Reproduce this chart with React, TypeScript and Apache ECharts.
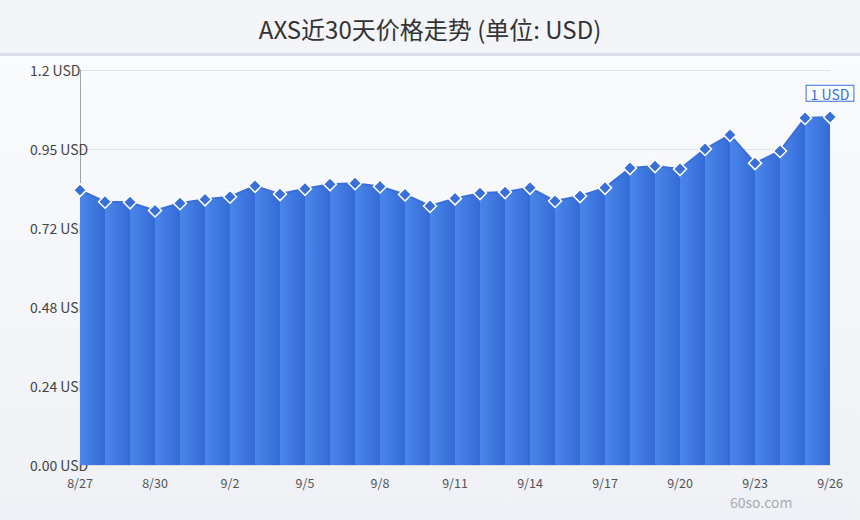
import React, { useEffect, useRef } from "react";
import * as echarts from "echarts";

const categories = [
  "8/27", "8/28", "8/29", "8/30", "8/31", "9/1", "9/2", "9/3", "9/4", "9/5",
  "9/6", "9/7", "9/8", "9/9", "9/10", "9/11", "9/12", "9/13", "9/14", "9/15",
  "9/16", "9/17", "9/18", "9/19", "9/20", "9/21", "9/22", "9/23", "9/24", "9/25", "9/26",
];

const prices = [
  0.835, 0.8, 0.798, 0.773, 0.795, 0.807, 0.815, 0.848, 0.823, 0.839,
  0.853, 0.856, 0.846, 0.822, 0.787, 0.81, 0.826, 0.829, 0.842, 0.802,
  0.817, 0.842, 0.902, 0.908, 0.899, 0.96, 1.003, 0.917, 0.954, 1.054, 1.057,
];

const yTickLabels = ["0.00 USD", "0.24 USD", "0.48 USD", "0.72 USD", "0.95 USD", "1.2 USD"];

const titleText = "AXS近30天价格走势 (单位: USD)";
const watermark = "60so.com";

const FONT = "'Noto Sans CJK SC', 'Noto Sans', sans-serif";
const BLUE = "#3a6fd9";

export default function App() {
  const ref = useRef<HTMLDivElement>(null);

  useEffect(() => {
    document.body.style.margin = "0";
    const chart = echarts.init(ref.current!, undefined, { renderer: "svg" });

    const stripeData = prices.map((v, i) => [i, v, i < prices.length - 1 ? prices[i + 1] : v]);
    const last = prices.length - 1;

    chart.setOption({
      animation: false,
      textStyle: { fontFamily: FONT },
      graphic: [
        {
          type: "rect",
          z: -10,
          silent: true,
          shape: { x: 0, y: 0, width: 860, height: 53 },
          style: { fill: "#f4f5f9" },
        },
        {
          type: "rect",
          z: -10,
          silent: true,
          shape: { x: 0, y: 53, width: 860, height: 3 },
          style: { fill: "#dcdfe8" },
        },
        {
          type: "rect",
          z: -10,
          silent: true,
          shape: { x: 0, y: 56, width: 860, height: 464 },
          style: {
            fill: new echarts.graphic.LinearGradient(0, 0, 0, 1, [
              { offset: 0, color: "#fafbfd" },
              { offset: 1, color: "#eff1f6" },
            ]),
          },
        },
        {
          type: "text",
          z: 10,
          silent: true,
          x: 730,
          y: 495,
          style: { text: watermark, fill: "#a9abb0", fontSize: 14, fontFamily: FONT },
        },
      ],
      title: {
        text: titleText,
        left: "center",
        top: 11,
        textStyle: { fontSize: 24, fontWeight: "normal", color: "#333", fontFamily: FONT },
      },
      grid: { left: 80, right: 30, top: 70, bottom: 55 },
      xAxis: {
        type: "category",
        data: categories,
        boundaryGap: false,
        axisLine: { show: true, lineStyle: { color: "#d8dbe2" } },
        axisTick: { show: false },
        axisLabel: { interval: 2, color: "#555", fontSize: 12.5, margin: 11, fontFamily: FONT },
        splitLine: { show: false },
      },
      yAxis: {
        type: "value",
        min: 0,
        max: 1.2,
        interval: 0.24,
        axisLine: { show: true, lineStyle: { color: "#a0a4ad" } },
        axisTick: { show: false },
        axisLabel: {
          align: "left",
          margin: 50,
          color: "#444",
          fontSize: 14,
          fontFamily: FONT,
          padding: [0, 0, 2, 0],
          formatter: (v: number) => yTickLabels[Math.round(v / 0.24)] ?? "",
        },
        splitLine: { show: true, lineStyle: { color: "#dfe2ea" } },
      },
      series: [
        {
          type: "custom",
          z: 2,
          data: stripeData,
          encode: { x: 0, y: 1 },
          renderItem: (params: any, api: any) => {
            const i = api.value(0);
            if (i >= last) return null;
            const p0 = api.coord([i, api.value(1)]);
            const p1 = api.coord([i + 1, api.value(2)]);
            const b0 = api.coord([i, 0]);
            const b1 = api.coord([i + 1, 0]);
            return {
              type: "polygon",
              shape: { points: [b0, p0, p1, b1] },
              style: {
                fill: new echarts.graphic.LinearGradient(0, 0, 1, 0, [
                  { offset: 0, color: "#4a87ea" },
                  { offset: 1, color: "#356ad6" },
                ]),
                stroke: null,
              },
            };
          },
        },
        {
          type: "line",
          z: 3,
          data: prices.map((v, i) =>
            i === last
              ? {
                  value: v,
                  label: {
                    show: true,
                    position: "top",
                    distance: 9,
                    formatter: (p: any) => `${Math.round(p.value)} USD`,
                    color: BLUE,
                    fontSize: 14,
                    fontFamily: FONT,
                    backgroundColor: "#fbfcfe",
                    borderColor: BLUE,
                    borderWidth: 1,
                    padding: [1, 4, 0, 4],
                  },
                }
              : v
          ),
          symbol: "diamond",
          symbolSize: 13,
          showAllSymbol: true,
          lineStyle: { color: BLUE, width: 2 },
          itemStyle: { color: BLUE, borderColor: "#ffffff", borderWidth: 1.5 },
        },
      ],
    });

    return () => chart.dispose();
  }, []);

  return (
    <div
      ref={ref}
      style={{ position: "absolute", left: 0, top: 0, width: 860, height: 520 }}
    />
  );
}
